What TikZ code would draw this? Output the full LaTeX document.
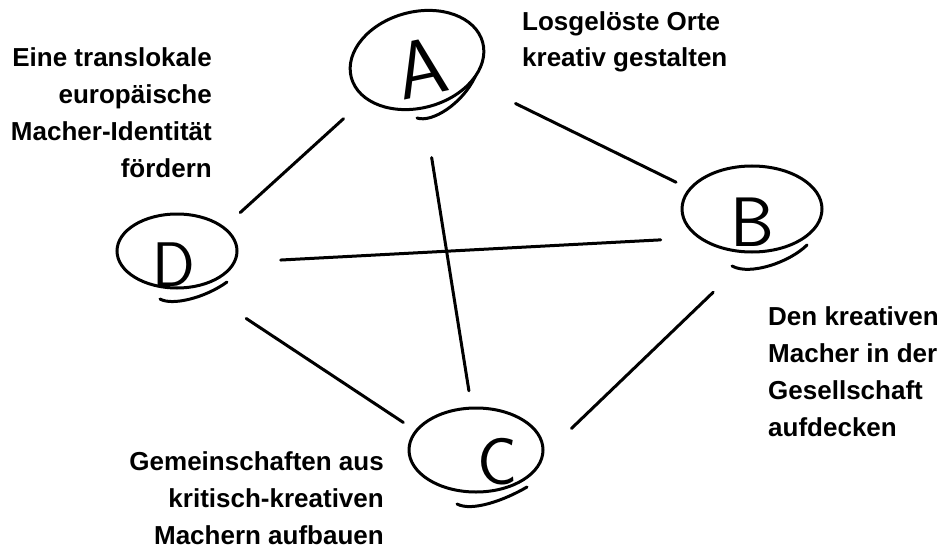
\documentclass[tikz,border=0pt]{standalone}
\usepackage{fontspec}
\newfontfamily\notefont{Liberation Sans}
\usetikzlibrary{shapes.geometric}
\tikzstyle{spot} = [draw, ellipse, line width=3pt, inner sep=0pt]
\tikzstyle{link} = [line width=3pt, line cap=round]
\tikzstyle{hand} = [line width=3pt, line cap=round]
\tikzstyle{note} = [inner sep=0pt, font=\notefont\bfseries\fontsize{26}{36.7}\selectfont]
\tikzstyle{letter} = [inner sep=0pt, font=\sffamily\fontsize{70}{70}\selectfont]
\begin{document}
\begin{tikzpicture}[x=1pt,y=-1pt]
        \useasboundingbox (0,0) rectangle (949,548);
        % circles
        \node (A) [spot, minimum width=136, minimum height=96, rotate=15] at (417,60) {};
        \node (B) [spot, minimum width=140, minimum height=86] at (752,209) {};
        \node (C) [spot, minimum width=134, minimum height=84] at (476,450) {};
        \node (D) [spot, minimum width=120, minimum height=74] at (177,251) {};
        \node (la) [letter, scale=1.15, rotate=12] at (421,68) {A};
        \node (lb) [letter] at (752,222) {B};
        \node (lc) [letter, scale=0.95] at (497,462) {C};
        \node (ld) [letter, scale=0.9] at (174,265) {D};
        \draw [hand] (417,118) .. controls (432,123) and (462,104) .. (475,77);
        \draw [hand] (732,266) .. controls (750,276) and (790,262) .. (807,245);
        \draw [hand] (457,504) .. controls (472,512) and (505,500) .. (527,487);
        \draw [hand] (160,299) .. controls (172,306) and (205,298) .. (227,282);

        % connections
        \draw [link, shorten <=29pt, shorten >=21pt] (A.202) -- (D.27);
        \draw [link, shorten <=48pt, shorten >=14pt] (A.-37) -- (B.162);
        \draw [link, shorten <=49pt, shorten >=16pt] (A.-97) -- (C.96);
        \draw [link, shorten <=45pt, shorten >=37pt] (D.-11) -- (B.208);
        \draw [link, shorten <=57pt, shorten >=14pt] (D.-59) -- (C.162);
        \draw [link, shorten <=56pt, shorten >=38pt] (B.-88) -- (C.-4);

        % texts
        \node (ta) [note, align=left, anchor=base west] at (522,67) {Losgelöste Orte\\kreativ gestalten};
        \node (tb) [note, align=left, anchor=base west] at (768,436) {Den kreativen\\Macher in der\\Gesellschaft\\aufdecken};
        \node (tc) [note, align=right, anchor=base east] at (384,544) {Gemeinschaften aus\\kritisch-kreativen\\Machern aufbauen};
        \node (td) [note, align=right, anchor=base east] at (212,177) {Eine translokale\\europäische\\Macher-Identität\\fördern};
\end{tikzpicture}
\end{document}
